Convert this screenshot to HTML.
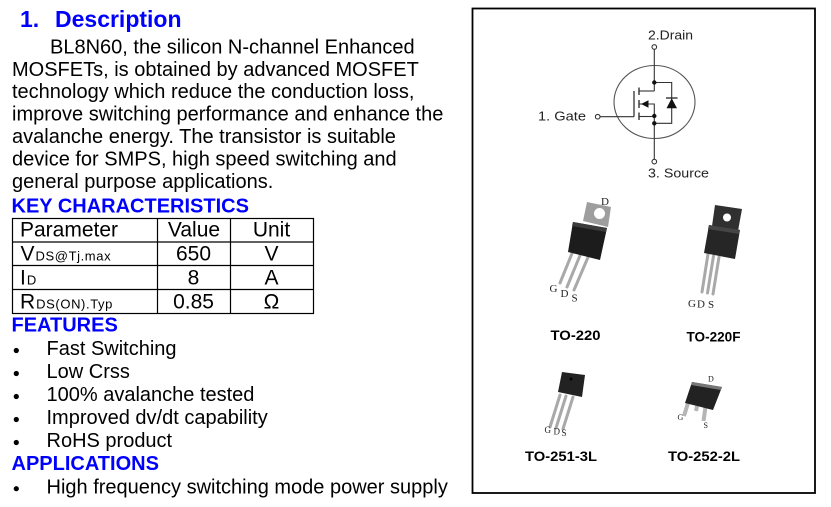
<!DOCTYPE html>
<html>
<head>
<meta charset="utf-8">
<style>
html,body{margin:0;padding:0;background:#fff;overflow:hidden;}
svg{display:block;}
.b{font-family:"Liberation Sans",Arial,sans-serif;font-size:20px;fill:#000;}
.h{font-family:"Liberation Sans",Arial,sans-serif;font-size:20px;font-weight:bold;fill:#0000ff;}
.t{font-family:"Liberation Sans",Arial,sans-serif;font-size:21px;fill:#000;}
.s{font-size:13px;letter-spacing:0.6px;}
.c{font-family:"Liberation Sans",Arial,sans-serif;font-size:12.5px;fill:#222;}
.p{font-family:"Liberation Sans",Arial,sans-serif;font-size:14px;font-weight:bold;fill:#000;}
.g{font-family:"Liberation Serif","Times New Roman",serif;fill:#222;}
</style>
</head>
<body>
<svg width="831" height="507" viewBox="0 0 831 507" xmlns="http://www.w3.org/2000/svg">
<rect width="831" height="507" fill="#fff"/>

<!-- Description -->
<text x="20" y="27" class="h" style="font-size:23px">1.</text>
<text x="55" y="27" class="h" style="font-size:23px">Description</text>
<text x="50" y="53.3" class="b">BL8N60, the silicon N-channel Enhanced</text>
<text x="12" y="75.8" class="b">MOSFETs, is obtained by advanced MOSFET</text>
<text x="12" y="98.2" class="b">technology which reduce the conduction loss,</text>
<text x="12" y="120.6" class="b">improve switching performance and enhance the</text>
<text x="12" y="143.1" class="b">avalanche energy. The transistor is suitable</text>
<text x="12" y="165.6" class="b">device for SMPS, high speed switching and</text>
<text x="12" y="188" class="b">general purpose applications.</text>

<text x="11.5" y="212.3" class="h">KEY CHARACTERISTICS</text>

<!-- Table -->
<g stroke="#000" stroke-width="1.2" fill="none">
<rect x="12.5" y="218.5" width="301" height="95"/>
<line x1="12.5" y1="242" x2="313.5" y2="242"/>
<line x1="12.5" y1="265.5" x2="313.5" y2="265.5"/>
<line x1="12.5" y1="289.5" x2="313.5" y2="289.5"/>
<line x1="157.5" y1="218.5" x2="157.5" y2="313.5"/>
<line x1="230.5" y1="218.5" x2="230.5" y2="313.5"/>
</g>
<text x="20" y="236.7" class="t">Parameter</text>
<text x="194" y="236.7" class="t" text-anchor="middle">Value</text>
<text x="271.5" y="236.7" class="t" text-anchor="middle">Unit</text>

<text x="20.5" y="260.5" class="t">V<tspan class="s" dx="1">DS@Tj.max</tspan></text>
<text x="193.5" y="260.5" class="t" text-anchor="middle">650</text>
<text x="271.5" y="260.5" class="t" text-anchor="middle">V</text>

<text x="20" y="284.7" class="t">I<tspan class="s" dx="1">D</tspan></text>
<text x="193.5" y="284.7" class="t" text-anchor="middle">8</text>
<text x="271.5" y="284.7" class="t" text-anchor="middle">A</text>

<text x="20" y="308.7" class="t">R<tspan class="s" dx="1">DS(ON).Typ</tspan></text>
<text x="193.5" y="308.7" class="t" text-anchor="middle">0.85</text>
<text x="271.5" y="308.7" class="t" text-anchor="middle">Ω</text>

<!-- Features -->
<text x="11.5" y="331.7" class="h">FEATURES</text>
<g fill="#000">
<circle cx="16.3" cy="350.5" r="2.6"/>
<circle cx="16.3" cy="373.5" r="2.6"/>
<circle cx="16.3" cy="396.5" r="2.6"/>
<circle cx="16.3" cy="419.5" r="2.6"/>
<circle cx="16.3" cy="442.5" r="2.6"/>
<circle cx="16.3" cy="488.7" r="2.6"/>
</g>
<text x="46.5" y="355" class="b">Fast Switching</text>
<text x="46.5" y="378.2" class="b">Low Crss</text>
<text x="46.5" y="401" class="b">100% avalanche tested</text>
<text x="46.5" y="424.2" class="b">Improved dv/dt capability</text>
<text x="46.5" y="447.2" class="b">RoHS product</text>
<text x="11.5" y="470" class="h">APPLICATIONS</text>
<text x="46.5" y="493.3" class="b">High frequency switching mode power supply</text>

<!-- Right box -->
<rect x="472.5" y="8.5" width="342.5" height="484.5" fill="none" stroke="#000" stroke-width="1.8"/>

<!-- MOSFET symbol -->
<g stroke="#333" stroke-width="1.1" fill="none">
<ellipse cx="654.5" cy="102" rx="40.5" ry="36.5" stroke="#555"/>
<line x1="654.3" y1="49.3" x2="654.3" y2="91"/>
<polyline points="654.3,91 639,91"/>
<polyline points="639,104 654.3,104 654.3,123"/>
<line x1="639" y1="116.5" x2="654.3" y2="116.5"/>
<line x1="654.3" y1="123" x2="654.3" y2="159.3"/>
<polyline points="654.3,82.5 671.7,82.5 671.7,123.3 654.3,123.3"/>
<line x1="600" y1="116.7" x2="634" y2="116.7"/>
<line x1="634" y1="91" x2="634" y2="116.7" stroke-width="1.3"/>
<line x1="639" y1="87.5" x2="639" y2="95" stroke-width="1.4"/>
<line x1="639" y1="100" x2="639" y2="108" stroke-width="1.4"/>
<line x1="639" y1="112.5" x2="639" y2="120" stroke-width="1.4"/>
<line x1="666" y1="98" x2="677.5" y2="98" stroke-width="1.4"/>
<circle cx="654.3" cy="47" r="2.3"/>
<circle cx="654.3" cy="161.6" r="2.3"/>
<circle cx="597.7" cy="116.7" r="2.3"/>
</g>
<g fill="#111">
<polygon points="641,104 648.5,100.3 648.5,107.7"/>
<polygon points="671.7,98.3 666.5,108.3 677,108.3"/>
<circle cx="654.3" cy="82.5" r="2.2"/>
<circle cx="654.3" cy="116" r="2.2"/>
<circle cx="654.3" cy="123.3" r="2.2"/>
</g>
<text x="648" y="39.3" class="c" textLength="45" lengthAdjust="spacingAndGlyphs">2.Drain</text>
<text x="538" y="120.5" class="c" textLength="48" lengthAdjust="spacingAndGlyphs">1. Gate</text>
<text x="648" y="177.7" class="c" textLength="61" lengthAdjust="spacingAndGlyphs">3. Source</text>

<!-- TO-220 -->
<g stroke="#a9a9a9" stroke-width="3" stroke-linecap="round">
<line x1="573" y1="251" x2="560" y2="283"/>
<line x1="581" y1="253" x2="567" y2="287"/>
<line x1="589" y1="255" x2="574" y2="290"/>
</g>
<polygon points="587,202 611,207 608,227 583,221" fill="#9e9e9e"/>
<circle cx="599.5" cy="213.5" r="5.5" fill="#fff"/>
<polygon points="573,222 607,228 600,260 568,252" fill="#1c1c1c"/>
<polygon points="573,222 607,228 606,232 572,226" fill="#3c3c3c"/>
<text x="601" y="205" class="g" style="font-size:11px">D</text>
<text x="549.5" y="292" class="g" style="font-size:11px">G</text>
<text x="560.5" y="297" class="g" style="font-size:11px">D</text>
<text x="571.5" y="301.5" class="g" style="font-size:11px">S</text>
<text x="550.5" y="340" class="p" textLength="50" lengthAdjust="spacingAndGlyphs">TO-220</text>

<!-- TO-220F -->
<g stroke="#a9a9a9" stroke-width="3" stroke-linecap="round">
<line x1="708" y1="254" x2="702" y2="292"/>
<line x1="713.5" y1="256" x2="707.5" y2="293"/>
<line x1="719" y1="257" x2="713" y2="294"/>
</g>
<polygon points="715,205 742,209 738,231 712,226" fill="#303030"/>
<circle cx="727" cy="217.5" r="4" fill="#fff"/>
<polygon points="709,225 740,230 735,259 704,253" fill="#262626"/>
<polygon points="709,225 740,230 739,234 708,229" fill="#454545"/>
<text x="688" y="307" class="g" style="font-size:11px">G</text>
<text x="697" y="307.5" class="g" style="font-size:11px">D</text>
<text x="708" y="308" class="g" style="font-size:11px">S</text>
<text x="686.5" y="341.7" class="p" textLength="54" lengthAdjust="spacingAndGlyphs">TO-220F</text>

<!-- TO-251-3L -->
<g stroke="#a9a9a9" stroke-width="3" stroke-linecap="round">
<line x1="560" y1="395" x2="550" y2="427"/>
<line x1="566" y1="396" x2="556" y2="428"/>
<line x1="573" y1="397" x2="563" y2="429"/>
</g>
<polygon points="562,372 585,375 582,397 558,392" fill="#222"/>
<circle cx="571" cy="379" r="1.5" fill="#000"/>
<text x="544.5" y="433" class="g" style="font-size:9px">G</text>
<text x="553.5" y="434.5" class="g" style="font-size:9px">D</text>
<text x="561.5" y="436" class="g" style="font-size:9px">S</text>
<text x="525" y="461" class="p" textLength="72" lengthAdjust="spacingAndGlyphs">TO-251-3L</text>

<!-- TO-252-2L -->
<g stroke="#b5b5b5" stroke-width="4" stroke-linecap="butt">
<line x1="688" y1="403" x2="684" y2="416"/>
<line x1="697" y1="406" x2="696" y2="411"/>
<line x1="705.5" y1="407" x2="703.5" y2="421"/>
</g>
<polygon points="692,382 722,387 713,410 685,403" fill="#222"/>
<polygon points="692,382 722,387 721,390 691,385" fill="#777"/>
<text x="708" y="381.7" class="g" style="font-size:8px">D</text>
<text x="677.5" y="420" class="g" style="font-size:8px">G</text>
<text x="703.5" y="428" class="g" style="font-size:8px">S</text>
<text x="668" y="461" class="p" textLength="72" lengthAdjust="spacingAndGlyphs">TO-252-2L</text>
</svg>
</body>
</html>
